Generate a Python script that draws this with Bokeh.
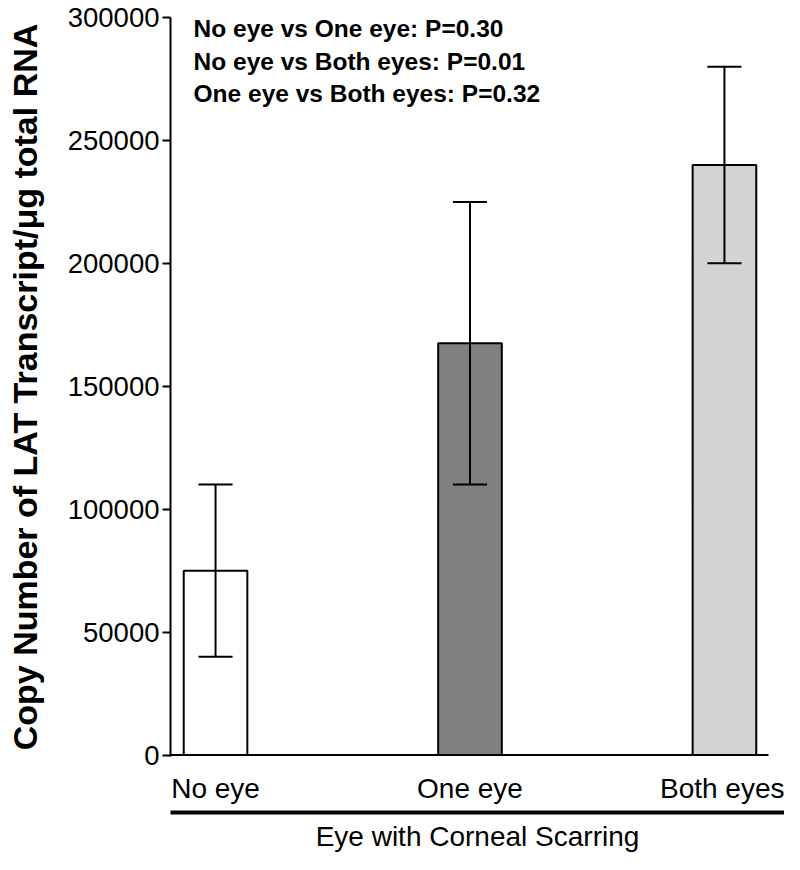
from bokeh.plotting import figure
from bokeh.models import FixedTicker, LinearAxis, Range1d, Label, BasicTickFormatter
from bokeh.embed import file_html
from bokeh.resources import INLINE

# ---- data ----
categories = ["No eye", "One eye", "Both eyes"]
means = [75000, 167500, 240000]
errors = [35000, 57500, 40000]
bar_colors = ["#ffffff", "#808080", "#d3d3d3"]
y_ticks = [0, 50000, 100000, 150000, 200000, 250000, 300000]
comparisons = ["No eye vs One eye", "No eye vs Both eyes", "One eye vs Both eyes"]
p_values = ["0.30", "0.01", "0.32"]
x_title = "Eye with Corneal Scarring"
y_title = "Copy Number of LAT Transcript/\u03bcg total RNA"

FONT = "Liberation Sans"
W, H = 784, 854
PAD_L = 0.177
PAD_R = 2.236 - 2
BASE_PAD = 0.173
BAR_W = 0.25
CAP_W = 0.134
n = len(categories)
xs = list(range(n))

p = figure(width=W, height=H, output_backend="svg", toolbar_location=None,
           x_range=Range1d(-PAD_L, n - 1 + PAD_R),
           y_range=Range1d(-600, 300000),
           min_border_left=170, min_border_right=0, min_border_top=17,
           min_border_bottom=40)
p.outline_line_color = None
p.xgrid.visible = False
p.ygrid.visible = False
p.background_fill_color = "white"
p.border_fill_color = "white"

# bars
p.vbar(x=xs, top=means, bottom=0, width=BAR_W, fill_color=bar_colors,
       line_color="black", line_width=2)

# baseline (x axis line)
p.segment(x0=[-PAD_L], y0=[0], x1=[n - 1 + BASE_PAD], y1=[0],
          line_color="black", line_width=2)

# error bars
lo = [m - e for m, e in zip(means, errors)]
hi = [m + e for m, e in zip(means, errors)]
p.segment(x0=xs, y0=lo, x1=xs, y1=hi, line_color="black", line_width=2)
p.segment(x0=[x - CAP_W / 2 for x in xs], y0=hi, x1=[x + CAP_W / 2 for x in xs], y1=hi,
          line_color="black", line_width=2)
p.segment(x0=[x - CAP_W / 2 for x in xs], y0=lo, x1=[x + CAP_W / 2 for x in xs], y1=lo,
          line_color="black", line_width=2)

# x axis (category labels)
xa = p.xaxis[0]
xa.ticker = FixedTicker(ticks=xs)
xa.major_label_overrides = {i: c for i, c in zip(xs, categories)}
xa.axis_line_color = None
xa.major_tick_line_color = None
xa.minor_tick_line_color = None
xa.major_tick_out = 0
xa.major_tick_in = 0
xa.major_label_standoff = 16
xa.major_label_text_font = FONT
xa.major_label_text_font_size = "28px"
xa.major_label_text_color = "black"
xa.axis_label = " "
xa.axis_label_text_font_size = "3px"
xa.axis_label_standoff = 0

# second bottom axis: thick line + title
xa2 = LinearAxis(ticker=FixedTicker(ticks=[]), axis_line_width=4, axis_line_color="black",
                 major_tick_out=0, major_tick_in=0, major_label_standoff=0,
                 minor_tick_line_color=None, major_tick_line_color=None,
                 axis_label=x_title, axis_label_standoff=8,
                 axis_label_text_font=FONT, axis_label_text_font_size="28px",
                 axis_label_text_font_style="normal", axis_label_text_color="black")
p.add_layout(xa2, "below")

# y axis
ya = p.yaxis[0]
ya.ticker = FixedTicker(ticks=y_ticks)
ya.formatter = BasicTickFormatter(use_scientific=False)
ya.axis_line_width = 2
ya.axis_line_color = "black"
ya.major_tick_line_width = 2
ya.major_tick_line_color = "black"
ya.major_tick_out = 8
ya.major_tick_in = 0
ya.minor_tick_line_color = None
ya.major_label_standoff = 3
ya.major_label_text_font = FONT
ya.major_label_text_font_size = "27.5px"
ya.major_label_text_color = "black"
ya.axis_label = y_title
ya.axis_label_text_font = FONT
ya.axis_label_text_font_size = "34px"
ya.axis_label_text_font_style = "bold"
ya.axis_label_text_color = "black"
ya.axis_label_standoff = 21

# p-value annotations
ann_y = [295500, 282240, 268960]
for comp, pv, yy in zip(comparisons, p_values, ann_y):
    p.add_layout(Label(x=-0.0864, y=yy, text=f"{comp}: P={pv}", text_font=FONT,
                       text_font_size="24.5px", text_font_style="bold",
                       text_baseline="middle", text_align="left", text_color="black"))

open("out.html", "w").write(file_html(p, INLINE))
